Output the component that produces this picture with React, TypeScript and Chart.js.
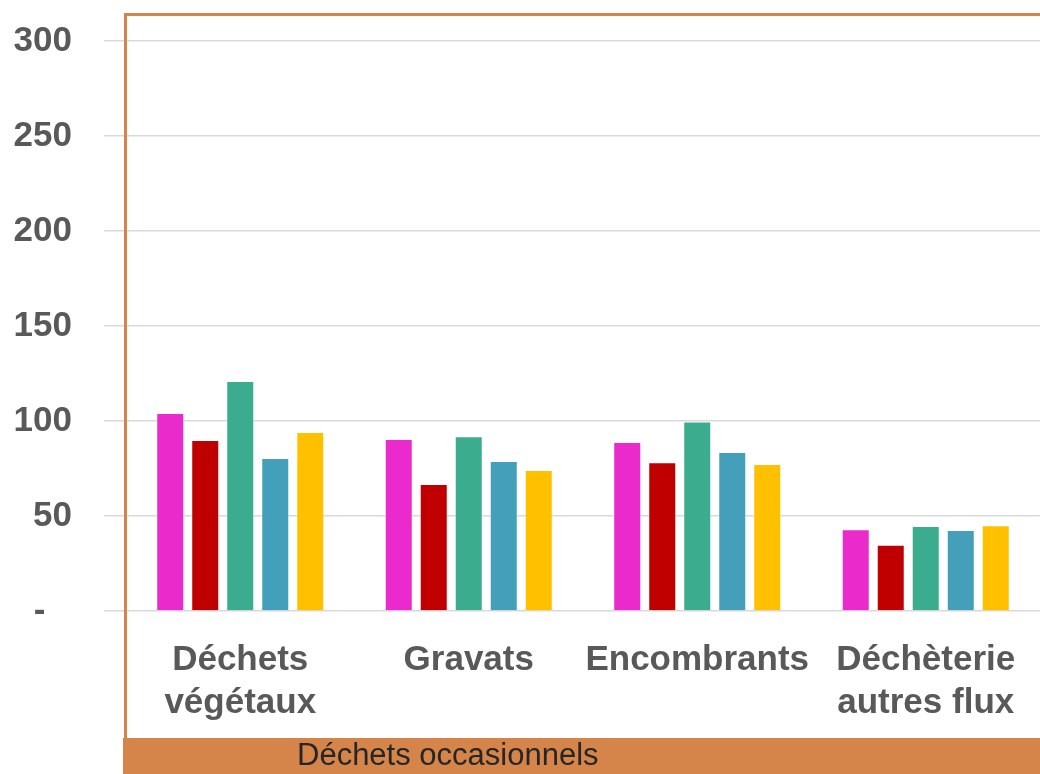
import React, { useEffect, useRef } from "react";
import { Chart, registerables } from "chart.js";

Chart.register(...registerables);

const categories: (string | string[])[] = [
  ["Déchets", "végétaux"],
  "Gravats",
  "Encombrants",
  ["Déchèterie", "autres flux"],
];

const seriesNames = ["Série 1", "Série 2", "Série 3", "Série 4", "Série 5"];
const serie1 = [104.2, 90.5, 89, 43];
const serie2 = [90, 66.8, 78.3, 34.9];
const serie3 = [121, 92, 99.8, 44.7];
const serie4 = [80.5, 79, 83.7, 42.6];
const serie5 = [94.2, 74.2, 77.4, 45.1];
const seriesValues = [serie1, serie2, serie3, serie4, serie5];
const seriesColors = ["#EA2ACB", "#C00000", "#3CAC8F", "#449FBA", "#FFC000"];

const yTickValues = [0, 50, 100, 150, 200, 250, 300];
const bottomTitle = "Déchets occasionnels";

const FONT = '"Liberation Sans", Arial, sans-serif';
const ORANGE = "#D6854A";

export default function App() {
  const ref = useRef<HTMLCanvasElement | null>(null);

  useEffect(() => {
    if (!ref.current) return;
    const chart = new Chart(ref.current, {
      type: "bar",
      data: {
        labels: categories,
        datasets: seriesValues.map((vals, i) => ({
          label: seriesNames[i],
          data: vals,
          backgroundColor: seriesColors[i],
          borderColor: "rgba(255,255,255,0.35)",
          borderWidth: 1,
          categoryPercentage: 0.766,
          barPercentage: 0.8,
        })),
      },
      options: {
        responsive: false,
        animation: false,
        devicePixelRatio: 1,
        layout: { padding: { top: 41, left: 0, right: -2, bottom: 0 } },
        plugins: {
          legend: { display: false },
          tooltip: { enabled: false },
        },
        scales: {
          x: {
            grid: { display: false, drawTicks: false },
            border: { display: false },
            ticks: {
              color: "#595959",
              font: { family: FONT, size: 35, weight: "bold", lineHeight: 1.23 },
              padding: 28,
              maxRotation: 0,
              autoSkip: false,
            },
            afterFit: (scale: any) => {
              scale.height = 163;
              scale.paddingLeft = 0;
              scale.paddingRight = 0;
            },
          },
          y: {
            min: 0,
            max: 300,
            afterBuildTicks: (scale: any) => {
              scale.ticks = yTickValues.map((v) => ({ value: v }));
            },
            grid: {
              color: "#D9D9D9",
              lineWidth: 1.5,
              tickLength: 22,
              tickColor: "#D9D9D9",
              drawTicks: true,
            },
            border: { display: false },
            ticks: {
              color: "#595959",
              font: { family: FONT, size: 35, weight: "bold" },
              padding: 32,
              callback: (v: any) => (Number(v) === 0 ? "-\u2007\u2009" : String(v)),
            },
            afterFit: (scale: any) => {
              scale.width = 126;
              scale.paddingTop = 0;
              scale.paddingBottom = 0;
            },
          },
        },
      },
    });
    return () => chart.destroy();
  }, []);

  return (
    <div
      style={{
        position: "fixed",
        left: 0,
        top: 0,
        width: 1040,
        height: 774,
        background: "#ffffff",
        overflow: "hidden",
      }}
    >
      <canvas ref={ref} width={1040} height={774} style={{ position: "absolute", left: 0, top: 0 }} />
      <div style={{ position: "absolute", left: 124, top: 13, width: 3, height: 725, background: ORANGE }} />
      <div style={{ position: "absolute", left: 124, top: 13, width: 916, height: 3, background: ORANGE }} />
      <div style={{ position: "absolute", left: 123, top: 738, width: 917, height: 36, background: ORANGE }} />
      <div
        style={{
          position: "absolute",
          left: 297,
          top: 737,
          fontFamily: FONT,
          fontSize: 31,
          color: "#262626",
          whiteSpace: "nowrap",
        }}
      >
        {bottomTitle}
      </div>
    </div>
  );
}
